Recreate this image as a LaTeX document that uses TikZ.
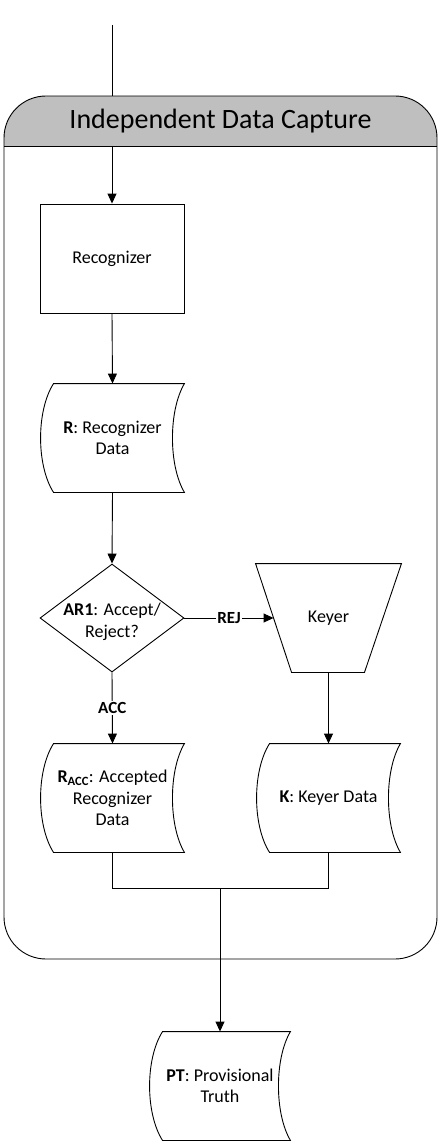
\documentclass[tikz,border=0pt]{standalone}
\usepackage{fontspec}
\setmainfont{Carlito}
\usetikzlibrary{arrows.meta,calc,shapes.geometric}
\definecolor{hdrgray}{RGB}{191,191,191}
\newcommand\dshape[1]{%
  \draw ($(#1.north west)+(13,0)$) -- (#1.north east)
    .. controls ($(#1.north east)+(-16,27)$) and ($(#1.south east)+(-16,-27)$) .. (#1.south east)
    -- ($(#1.south west)+(13,0)$)
    .. controls ($(#1.south west)+(-4.3,-27)$) and ($(#1.north west)+(-4.3,27)$) .. cycle;}
\begin{document}
\begin{tikzpicture}[x=1pt,y=-1pt,
  line width=0.9pt,
  arr/.style={-{Triangle[length=10pt,width=9pt]}},
  txt/.style={font=\fontsize{18}{21.5}\selectfont, align=center, inner sep=0pt},
  box/.style={txt, draw, minimum width=144pt, minimum height=109pt},
  dat/.style={txt, minimum width=143pt, minimum height=108pt},
  lbl/.style={font=\fontsize{17}{20}\selectfont\bfseries, fill=white, inner sep=1.5pt}
]
\useasboundingbox (0,0) rectangle (440,1142);
% container
\begin{scope}
  \clip[rounded corners=42pt] (4,96) rectangle (437,959);
  \fill[hdrgray] (4,96) rectangle (437,146);
\end{scope}
\draw[rounded corners=42pt] (4,96) rectangle (437,959);
\draw (4,146) -- (437,146);
\coordinate (ctop) at (220,96);
\coordinate (hbot) at (220,146);
\node[font=\fontsize{28}{32}\selectfont, inner sep=0pt] (hdr) at (220.5,121) {Independent Data Capture};
% nodes
\coordinate (start) at (112,25);
\node[box] (rec) at (112,258.5) {Recognizer};
\node[dat] (rd) at (112.5,438) {\textbf{R}: Recognizer\\Data};
\dshape{rd}
\node[diamond, draw, aspect=1.333, minimum width=144pt, minimum height=108pt, inner sep=0pt] (ar) at (112,618) {};
\node[txt] (art) at ($(ar.center)+(0,4)$) {\textbf{AR1}: Accept/\\Reject?};
\node[txt, minimum width=145pt, minimum height=108pt] (key) at (328.5,618) {Keyer};
\draw (key.north west) -- (key.north east) -- ($(key.south east)+(-37,0)$) -- ($(key.south west)+(36,0)$) -- cycle;
\coordinate (kin) at ($(key.west)+(18,0)$);
\node[dat] (ra) at (112.5,798) {\textbf{R\textsubscript{ACC}}: Accepted\\Recognizer\\Data};
\dshape{ra}
\node[dat] (kd) at (328.5,798) {\textbf{K}: Keyer Data};
\dshape{kd}
\node[dat, minimum width=140pt] (pt) at (220,1086) {\textbf{PT}: Provisional\\Truth};
\dshape{pt}
% connectors
\draw (start) -- (start |- ctop);
\draw[arr] (start |- hbot) -- (rec.north);
\draw[arr] (rec.south) -- (rd.north);
\draw[arr] (rd.south) -- (ar.north);
\draw[arr] (ar.east) -- node[lbl]{REJ} (kin);
\draw[arr] (ar.south) -- node[lbl]{ACC} (ra.north);
\draw[arr] (key.south) -- (kd.north);
\coordinate (jn) at (220,888);
\draw (ra.south) |- (jn) -| (kd.south);
\draw[arr] (jn) -- (pt.north);
\end{tikzpicture}
\end{document}
